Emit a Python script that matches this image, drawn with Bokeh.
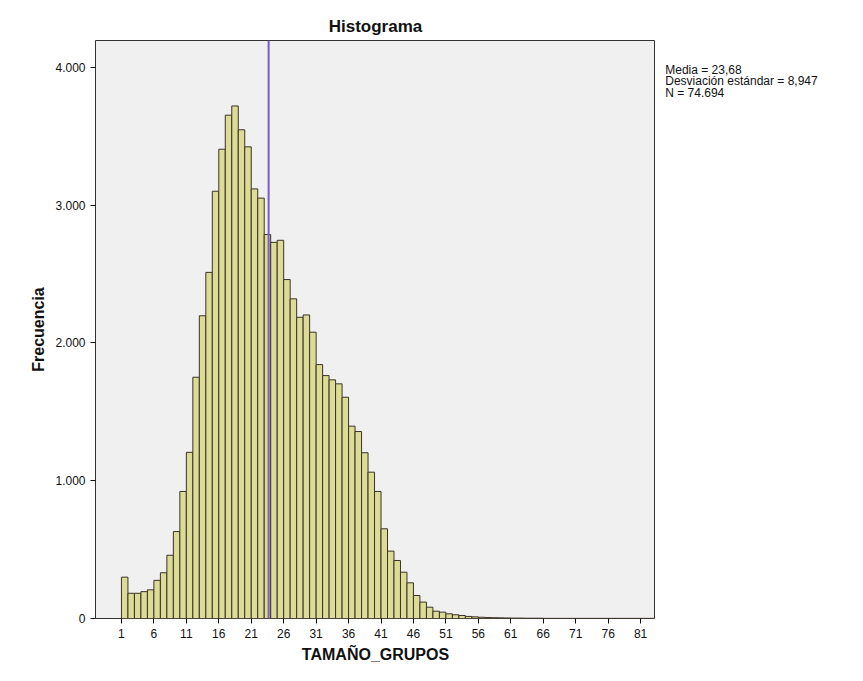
from bokeh.plotting import figure
from bokeh.layouts import row
from bokeh.models import Span, Label, FixedTicker, Range1d
from bokeh.embed import file_html
from bokeh.resources import INLINE

# Data: frequency per group size (1..)
sizes = list(range(1, 83))
freq = [300, 183, 183, 195, 208, 277, 332, 459, 631, 922,
        1206, 1751, 2197, 2512, 3101, 3406, 3653, 3720, 3547, 3423,
        3118, 3051, 2787, 2730, 2745, 2460, 2320, 2186, 2203, 2078,
        1843, 1763, 1732, 1703, 1606, 1396, 1357, 1203, 1062, 922,
        651, 489, 421, 336, 259, 167, 119, 82, 53, 46,
        34, 27, 22, 15, 12, 9, 7, 6, 5, 4,
        3, 3, 2, 2, 2, 1, 1, 1, 1, 1,
        1, 1, 1, 1, 1, 1, 1, 1, 1, 1, 1, 1]
mean_val = 23.68
x_ticks = list(range(1, 82, 5))
y_ticks = [0, 1000, 2000, 3000, 4000]
y_labels = {0: "0", 1000: "1.000", 2000: "2.000", 3000: "3.000", 4000: "4.000"}
stats_lines = ["Media = 23,68", "Desviación estándar = 8,947", "N = 74.694"]

font = "Liberation Sans"

p = figure(width=655, height=673, output_backend="svg", toolbar_location=None,
           x_range=Range1d(-3, 83.3), y_range=Range1d(0, 4195),
           min_border_left=95, min_border_right=0, min_border_top=40, min_border_bottom=55,
           title="Histograma", x_axis_label="TAMAÑO_GRUPOS", y_axis_label="Frecuencia")

lefts = sizes
rights = [s + 1 for s in sizes]
p.quad(left=lefts, right=rights, bottom=0, top=freq,
       fill_color="#dcdc96", line_color="#3c3228", line_width=1)

p.add_layout(Span(location=mean_val, dimension="height", line_color="#7a5cc8", line_width=2))

p.background_fill_color = "#f0f0f0"
p.outline_line_color = "#333333"
p.xgrid.visible = False
p.ygrid.visible = False

p.title.align = "center"
p.title.text_font = font
p.title.text_font_size = "17px"
p.title.text_font_style = "bold"
p.title.text_color = "#111111"

p.xaxis.ticker = FixedTicker(ticks=x_ticks)
p.yaxis.ticker = FixedTicker(ticks=y_ticks)
p.yaxis.major_label_overrides = y_labels
for ax in (p.xaxis, p.yaxis):
    ax.minor_tick_line_color = None
    ax.major_tick_line_color = "#111111"
    ax.major_label_text_color = "#111111"
    ax.axis_label_text_color = "#111111"
    ax.major_label_text_font = font
    ax.major_label_text_font_size = "12px"
    ax.axis_label_text_font = font
    ax.axis_label_text_font_size = "16px"
    ax.axis_label_text_font_style = "bold"
    ax.major_tick_out = 5
    ax.major_tick_in = 0
    ax.axis_line_color = None

# side panel with the statistics text
side = figure(width=195, height=673, output_backend="svg", toolbar_location=None,
              x_range=Range1d(0, 1), y_range=Range1d(0, 4195),
              min_border_left=0, min_border_right=0, min_border_top=40, min_border_bottom=55)
side.axis.visible = False
side.grid.visible = False
side.outline_line_color = None
for i, line in enumerate(stats_lines):
    side.add_layout(Label(x=0.05, y=3980 - i * 82, text=line, text_color="#111111",
                          text_font=font, text_font_size="12px", text_baseline="middle"))

layout = row(p, side)
open("out.html", "w").write(file_html(layout, INLINE))
